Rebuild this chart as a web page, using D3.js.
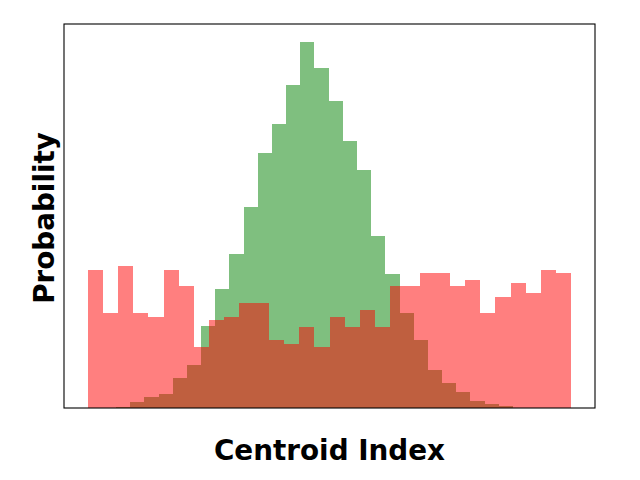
<!DOCTYPE html>
<html>
<head>
<meta charset="utf-8">
<script src="https://cdn.jsdelivr.net/npm/d3@7"></script>
<style>
  html, body { margin: 0; padding: 0; background: #fff; }
  svg { display: block; }
  text { font-family: "DejaVu Sans", sans-serif; font-weight: bold; }
</style>
</head>
<body>
<svg id="chart" width="640" height="480"></svg>
<script>
// Red histogram: 32 bins of width 1 from 0 to 32 (density)
const redRange = [0, 32];
const redValues = [0.0408, 0.0281, 0.0420, 0.0281, 0.0269, 0.0408, 0.0361, 0.0180,
                   0.0260, 0.0269, 0.0311, 0.0311, 0.0201, 0.0189, 0.0240, 0.0180,
                   0.0269, 0.0240, 0.0290, 0.0240, 0.0361, 0.0361, 0.0399, 0.0399,
                   0.0361, 0.0379, 0.0281, 0.0328, 0.0370, 0.0340, 0.0408, 0.0399];
// Green histogram: 28 equal bins spanning the green data range (density)
const greenRange = [1.85, 28.16];
const greenValues = [0.0003, 0.0018, 0.0033, 0.0041, 0.0089, 0.0127, 0.0243, 0.0352,
                     0.0456, 0.0595, 0.0754, 0.0840, 0.0956, 0.1083, 0.1006, 0.0908,
                     0.0790, 0.0704, 0.0509, 0.0396, 0.0281, 0.0201, 0.0112, 0.0074,
                     0.0047, 0.0021, 0.0012, 0.0006];
const xLabel = "Centroid Index";
const yLabel = "Probability";

const svg = d3.select("#chart");
const mLeft = 64, mRight = 595, mTop = 24, mBottom = 408;

function bins(range, values) {
  const w = (range[1] - range[0]) / values.length;
  return values.map((v, i) => ({x0: range[0] + i * w, x1: range[0] + (i + 1) * w, v}));
}
const redBins = bins(redRange, redValues);
const greenBins = bins(greenRange, greenValues);

const xmin = Math.min(redRange[0], greenRange[0]);
const xmax = Math.max(redRange[1], greenRange[1]);
const pad = (xmax - xmin) * 0.05;
const x = d3.scaleLinear().domain([xmin - pad, xmax + pad]).range([mLeft, mRight]);
const ymax = d3.max(redValues.concat(greenValues)) * 1.05;
const y = d3.scaleLinear().domain([0, ymax]).range([mBottom, mTop]);

function draw(data, color) {
  svg.append("g").selectAll("rect").data(data).join("rect")
    .attr("x", d => x(d.x0))
    .attr("width", d => x(d.x1) - x(d.x0))
    .attr("y", d => y(d.v))
    .attr("height", d => y(0) - y(d.v))
    .attr("fill", color)
    .attr("fill-opacity", 0.5)
    .attr("shape-rendering", "crispEdges");
}
draw(greenBins, "#008000");
draw(redBins, "#ff0000");

// Frame
svg.append("rect")
  .attr("x", mLeft).attr("y", mTop)
  .attr("width", mRight - mLeft).attr("height", mBottom - mTop)
  .attr("fill", "none").attr("stroke", "#000").attr("stroke-width", 1.1);

// Labels
svg.append("text")
  .attr("x", (mLeft + mRight) / 2).attr("y", 460)
  .attr("text-anchor", "middle")
  .attr("font-size", 27.8)
  .text(xLabel);
svg.append("text")
  .attr("transform", `translate(54, ${(mTop + mBottom) / 2 + 2}) rotate(-90)`)
  .attr("text-anchor", "middle")
  .attr("font-size", 27.8)
  .text(yLabel);
</script>
</body>
</html>
